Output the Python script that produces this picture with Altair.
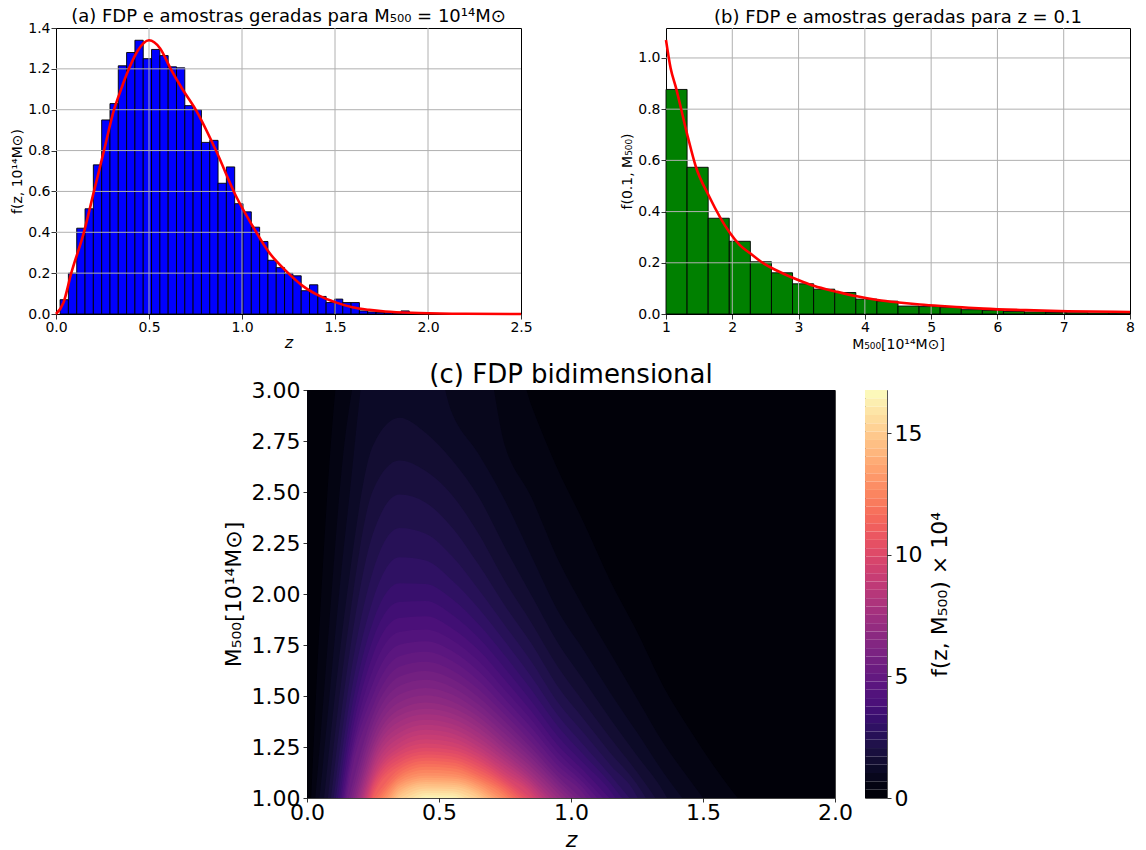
import math

import altair as alt
import pandas as pd

FONT = "DejaVu Sans"

# ---------------- (a) redshift samples for M500 = 1e14 Msun ----------------
z_bin_start = 0.022
z_bin_width = 0.0447
z_hist = [0.07, 0.20, 0.42, 0.515, 0.73, 0.95, 1.03, 1.215, 1.28, 1.34,
          1.25, 1.295, 1.265, 1.21, 1.205, 1.02, 1.00, 0.84, 0.85, 0.64,
          0.72, 0.54, 0.50, 0.425, 0.355, 0.263, 0.227, 0.199, 0.187, 0.114,
          0.143, 0.086, 0.056, 0.073, 0.056, 0.056, 0.015, 0.010, 0.008, 0.006,
          0.005, 0.015, 0.002, 0.003, 0.001, 0.001, 0.002, 0.001, 0.001, 0.001]

z_pdf_z = [0.0, 0.04, 0.082, 0.15, 0.204, 0.258, 0.312, 0.35, 0.392, 0.44,
           0.5, 0.56, 0.6165, 0.68, 0.751, 0.86, 0.966, 1.056, 1.145, 1.235,
           1.324, 1.414, 1.504, 1.593, 1.683, 1.77, 1.95, 2.2, 2.5]
z_pdf_f = [0.0, 0.055, 0.2, 0.4, 0.6, 0.8, 1.0, 1.1, 1.2, 1.29,
           1.34, 1.3, 1.2, 1.1, 1.0, 0.8, 0.58, 0.432, 0.302, 0.212,
           0.139, 0.09, 0.057, 0.033, 0.02, 0.012, 0.005, 0.001, 0.0]

# ---------------- (b) mass samples for z = 0.1 ----------------
m_bin_start = 1.0
m_bin_width = 7.0 / 22
m_hist = [0.877, 0.573, 0.374, 0.284, 0.204, 0.161, 0.118, 0.097, 0.084, 0.058,
          0.050, 0.031, 0.029, 0.026, 0.017, 0.014, 0.010, 0.008, 0.006, 0.005,
          0.004, 0.003]

m_pdf_m = [1.0, 1.07, 1.146, 1.327, 1.448, 1.65, 1.96, 2.11, 2.28, 2.43,
           2.75, 3.07, 3.24, 3.56, 3.88, 4.19, 4.51, 4.83, 5.15, 5.47,
           5.79, 6.43, 7.06, 8.0]
m_pdf_f = [1.07, 0.96, 0.888, 0.694, 0.577, 0.46, 0.318, 0.27, 0.235, 0.205,
           0.16, 0.125, 0.109, 0.088, 0.069, 0.055, 0.045, 0.037, 0.031, 0.026,
           0.021, 0.015, 0.011, 0.008]

# ---------------- (c) joint density f(z, M500) x 1e4 on a (z, M500) grid ----------------
grid_z = [0.0, 0.05, 0.15, 0.25, 0.35, 0.45, 0.55, 0.65, 0.75, 0.85, 0.95,
          1.05, 1.15, 1.25, 1.35, 1.45, 1.55, 1.65, 1.75, 1.85, 1.95]
grid_m = [1.0, 1.02, 1.06, 1.11, 1.17, 1.25, 1.35, 1.45, 1.55, 1.65, 1.75,
          1.85, 1.95, 2.05, 2.15, 2.25, 2.35, 2.45, 2.55, 2.65, 2.75, 2.85, 2.95]
# one row per grid_m value (bottom to top), one value per grid_z value
density_rows = [
    [0.0, 1.09, 5.14, 11.13, 15.05, 16.52, 16.49, 15.03, 12.52, 9.90, 7.17, 5.30, 3.70, 2.43, 1.47, 0.89, 0.53, 0.31, 0.17, 0.09, 0.05],
    [0.0, 1.05, 4.94, 10.70, 14.46, 15.88, 15.85, 14.44, 12.04, 9.51, 6.89, 5.10, 3.55, 2.34, 1.42, 0.85, 0.50, 0.30, 0.16, 0.09, 0.05],
    [0.0, 0.99, 4.62, 9.96, 13.40, 14.66, 14.57, 13.23, 10.99, 8.64, 6.23, 4.60, 3.19, 2.10, 1.26, 0.75, 0.44, 0.25, 0.15, 0.08, 0.05],
    [0.0, 0.89, 4.15, 8.92, 11.95, 13.02, 12.88, 11.64, 9.61, 7.53, 5.41, 3.97, 2.74, 1.80, 1.07, 0.64, 0.38, 0.22, 0.12, 0.07, 0.04],
    [0.0, 0.81, 3.76, 8.04, 10.71, 11.59, 11.40, 10.25, 8.41, 6.56, 4.68, 3.41, 2.34, 1.52, 0.91, 0.54, 0.31, 0.18, 0.09, 0.06, 0.03],
    [0.0, 0.71, 3.28, 6.95, 9.18, 9.86, 9.63, 8.58, 7.00, 5.41, 3.84, 2.78, 1.90, 1.22, 0.72, 0.42, 0.25, 0.14, 0.07, 0.05, 0.03],
    [0.0, 0.63, 2.85, 5.98, 7.84, 8.34, 8.06, 7.12, 5.75, 4.40, 3.09, 2.22, 1.49, 0.96, 0.56, 0.33, 0.19, 0.11, 0.05, 0.04, 0.02],
    [0.0, 0.55, 2.48, 5.15, 6.68, 7.04, 6.75, 5.90, 4.73, 3.58, 2.49, 1.77, 1.18, 0.75, 0.43, 0.25, 0.14, 0.08, 0.05, 0.03, 0.01],
    [0.0, 0.50, 2.20, 4.52, 5.81, 6.07, 5.76, 4.99, 3.95, 2.97, 2.04, 1.44, 0.95, 0.59, 0.34, 0.20, 0.11, 0.06, 0.04, 0.02, 0.01],
    [0.0, 0.44, 1.96, 4.01, 5.09, 5.27, 4.95, 4.25, 3.34, 2.48, 1.69, 1.18, 0.77, 0.48, 0.27, 0.15, 0.09, 0.05, 0.03, 0.01, 0.01],
    [0.0, 0.40, 1.76, 3.55, 4.46, 4.57, 4.26, 3.62, 2.82, 2.08, 1.40, 0.97, 0.63, 0.39, 0.22, 0.13, 0.07, 0.04, 0.02, 0.01, 0.01],
    [0.0, 0.36, 1.57, 3.13, 3.92, 3.97, 3.66, 3.09, 2.38, 1.74, 1.16, 0.79, 0.51, 0.32, 0.17, 0.10, 0.05, 0.03, 0.02, 0.01, 0.00],
    [0.0, 0.33, 1.41, 2.80, 3.47, 3.49, 3.19, 2.66, 2.03, 1.47, 0.97, 0.66, 0.42, 0.25, 0.14, 0.07, 0.05, 0.02, 0.01, 0.01, 0.00],
    [0.0, 0.30, 1.29, 2.53, 3.09, 3.08, 2.79, 2.30, 1.74, 1.25, 0.82, 0.55, 0.35, 0.21, 0.11, 0.06, 0.04, 0.02, 0.01, 0.01, 0.00],
    [0.0, 0.28, 1.19, 2.32, 2.82, 2.78, 2.49, 2.04, 1.52, 1.08, 0.71, 0.47, 0.29, 0.17, 0.09, 0.05, 0.03, 0.02, 0.01, 0.00, 0.00],
    [0.0, 0.27, 1.10, 2.13, 2.56, 2.51, 2.23, 1.80, 1.33, 0.94, 0.60, 0.40, 0.25, 0.14, 0.08, 0.04, 0.02, 0.01, 0.01, 0.00, 0.00],
    [0.0, 0.25, 1.03, 1.97, 2.34, 2.27, 2.00, 1.61, 1.18, 0.82, 0.52, 0.34, 0.21, 0.12, 0.07, 0.03, 0.02, 0.01, 0.00, 0.00, 0.00],
    [0.0, 0.23, 0.96, 1.82, 2.14, 2.05, 1.79, 1.42, 1.04, 0.71, 0.45, 0.29, 0.18, 0.10, 0.05, 0.03, 0.01, 0.01, 0.00, 0.00, 0.00],
    [0.0, 0.22, 0.88, 1.64, 1.92, 1.82, 1.57, 1.24, 0.89, 0.61, 0.38, 0.24, 0.15, 0.08, 0.04, 0.02, 0.01, 0.01, 0.00, 0.00, 0.00],
    [0.0, 0.20, 0.80, 1.48, 1.72, 1.62, 1.38, 1.08, 0.77, 0.52, 0.32, 0.20, 0.12, 0.07, 0.04, 0.02, 0.01, 0.00, 0.00, 0.00, 0.00],
    [0.0, 0.18, 0.73, 1.34, 1.54, 1.43, 1.21, 0.94, 0.66, 0.44, 0.27, 0.17, 0.10, 0.06, 0.03, 0.01, 0.01, 0.00, 0.00, 0.00, 0.00],
    [0.0, 0.17, 0.67, 1.22, 1.39, 1.28, 1.07, 0.82, 0.58, 0.38, 0.23, 0.14, 0.08, 0.05, 0.02, 0.01, 0.01, 0.00, 0.00, 0.00, 0.00],
    [0.0, 0.16, 0.62, 1.11, 1.25, 1.14, 0.95, 0.72, 0.50, 0.33, 0.20, 0.12, 0.07, 0.04, 0.02, 0.01, 0.00, 0.00, 0.00, 0.00, 0.00],
]
density_max = 16.78
n_bands = 49

# ---------------- tables ----------------
hist_a = pd.DataFrame({
    "lo": [z_bin_start + i * z_bin_width for i in range(len(z_hist))],
    "hi": [z_bin_start + (i + 1) * z_bin_width for i in range(len(z_hist))],
    "h": z_hist,
    "base": 0.0,
})
curve_a = pd.DataFrame({"lo": z_pdf_z, "h": z_pdf_f})

hist_b = pd.DataFrame({
    "lo": [m_bin_start + i * m_bin_width for i in range(len(m_hist))],
    "hi": [m_bin_start + (i + 1) * m_bin_width for i in range(len(m_hist))],
    "h": m_hist,
    "base": 0.0,
})
curve_b = pd.DataFrame({"lo": m_pdf_m, "h": m_pdf_f})

level_edges = [density_max * k / n_bands for k in range(n_bands + 1)]
band_mid = [(a + b) / 2 for a, b in zip(level_edges[:-1], level_edges[1:])]


def crossing(a, b, va, vb, level):
    """Position between a and b where the density passes `level`."""
    if va > 0 and vb > 0 and va != vb:
        t = (math.log(va) - math.log(level)) / (math.log(va) - math.log(vb))
    else:
        t = (va - level) / (va - vb)
    return a + t * (b - a)


def band_outline(level):
    """Upper edge of the region where f(z, M500) >= level (filled down to M500 = 1)."""
    bottom = density_rows[0]
    cols = [j for j, v in enumerate(bottom) if v >= level]
    if not cols:
        return []
    j0, j1 = cols[0], cols[-1]
    pts = [(crossing(grid_z[j0 - 1], grid_z[j0], bottom[j0 - 1], bottom[j0], level), 1.0)]
    for j in cols:
        col = [row[j] for row in density_rows]
        top = 3.3
        for i in range(len(col) - 1):
            if col[i] >= level > col[i + 1]:
                top = crossing(grid_m[i], grid_m[i + 1], col[i], col[i + 1], level)
                break
        pts.append((grid_z[j], top))
    if j1 + 1 < len(grid_z):
        pts.append((crossing(grid_z[j1], grid_z[j1 + 1], bottom[j1], bottom[j1 + 1], level), 1.0))
    return pts


cbar_df = pd.DataFrame({"lo": level_edges[:-1], "hi": level_edges[1:], "mid": band_mid})

# ---------------- shared styling ----------------
GRID = "#b0b0b0"
small_axis = dict(labelFont=FONT, labelFontSize=14, labelColor="black",
                  titleFont=FONT, titleFontSize=14, titleColor="black",
                  titleFontWeight="normal", tickColor="black", tickSize=5,
                  tickWidth=0.8, domain=False, grid=False, labelPadding=1,
                  labelFlush=False, labelOverlap=False)
big_axis = dict(labelFont=FONT, labelFontSize=22, labelColor="black",
                titleFont=FONT, titleFontSize=22, titleColor="black",
                titleFontWeight="normal", tickColor="black", tickSize=4,
                tickWidth=0.8, domain=False, grid=False, labelPadding=3,
                labelFlush=False, labelOverlap=False)


def axis_with(base, **extra):
    opts = dict(base)
    opts.update(extra)
    return alt.Axis(**opts)


def panel_title(text, size, offset, dx=0):
    return alt.TitleParams(text, font=FONT, fontSize=size, fontWeight="normal",
                           color="black", anchor="middle", frame="group",
                           offset=offset, dx=dx)


# ---------------- panel (a) ----------------
xa_scale = alt.Scale(domain=[0, 2.5], nice=False, zero=False)
ya_scale = alt.Scale(domain=[0, 1.4], nice=False)
xa_axis = axis_with(small_axis, values=[0, 0.5, 1.0, 1.5, 2.0, 2.5], format=".1f", title="z",
                    titleFontStyle="italic", titleFontSize=16, titlePadding=0)
ya_axis = axis_with(small_axis, values=[0, 0.2, 0.4, 0.6, 0.8, 1.0, 1.2, 1.4], format=".1f",
                    title="f(z, 10¹⁴M⊙)", titlePadding=3)


def xa(field):
    return alt.X(field, type="quantitative", scale=xa_scale, axis=xa_axis)


def ya(field):
    return alt.Y(field, type="quantitative", scale=ya_scale, axis=ya_axis)


bars_a = alt.Chart(hist_a).mark_rect(fill="#0000ff", stroke="black", strokeWidth=0.9).encode(
    x=xa("lo"), x2="hi", y=ya("h"), y2="base")
vgrid_a = alt.Chart(pd.DataFrame({"lo": [0.5, 1.0, 1.5, 2.0]})).mark_rule(
    color=GRID, strokeWidth=1).encode(x=xa("lo"))
hgrid_a = alt.Chart(pd.DataFrame({"h": [0.2, 0.4, 0.6, 0.8, 1.0, 1.2]})).mark_rule(
    color=GRID, strokeWidth=1).encode(y=ya("h"))
line_a = alt.Chart(curve_a).mark_line(color="#ff0000", strokeWidth=2.6, interpolate="monotone").encode(
    x=xa("lo"), y=ya("h"))

panel_a = alt.layer(bars_a, vgrid_a, hgrid_a, line_a).properties(
    width=465, height=286,
    title=panel_title("(a) FDP e amostras geradas para M₅₀₀ = 10¹⁴M⊙", 18, -5))

# ---------------- panel (b) ----------------
xb_scale = alt.Scale(domain=[1, 8], nice=False, zero=False)
yb_scale = alt.Scale(domain=[0, 1.117], nice=False)
xb_axis = axis_with(small_axis, values=[1, 2, 3, 4, 5, 6, 7, 8], format="d",
                    title="M₅₀₀[10¹⁴M⊙]", titlePadding=3)
yb_axis = axis_with(small_axis, values=[0, 0.2, 0.4, 0.6, 0.8, 1.0], format=".1f",
                    title="f(0.1, M₅₀₀)", titlePadding=3)


def xb(field):
    return alt.X(field, type="quantitative", scale=xb_scale, axis=xb_axis)


def yb(field):
    return alt.Y(field, type="quantitative", scale=yb_scale, axis=yb_axis)


bars_b = alt.Chart(hist_b).mark_rect(fill="#008000", stroke="black", strokeWidth=0.9).encode(
    x=xb("lo"), x2="hi", y=yb("h"), y2="base")
vgrid_b = alt.Chart(pd.DataFrame({"lo": [2, 3, 4, 5, 6, 7]})).mark_rule(
    color=GRID, strokeWidth=1).encode(x=xb("lo"))
hgrid_b = alt.Chart(pd.DataFrame({"h": [0.2, 0.4, 0.6, 0.8, 1.0]})).mark_rule(
    color=GRID, strokeWidth=1).encode(y=yb("h"))
line_b = alt.Chart(curve_b).mark_line(color="#ff0000", strokeWidth=2.6, interpolate="monotone").encode(
    x=xb("lo"), y=yb("h"))

panel_b = alt.layer(bars_b, vgrid_b, hgrid_b, line_b).properties(
    width=464, height=286,
    title=panel_title("(b) FDP e amostras geradas para z = 0.1", 18, 1))

# ---------------- panel (c): filled density bands ----------------
color_scale = alt.Scale(scheme="magma", domain=[0, density_max])
xc_scale = alt.Scale(domain=[0, 2], nice=False, zero=False)
yc_scale = alt.Scale(domain=[1, 3], nice=False, zero=False)
xc_axis = axis_with(big_axis, values=[0, 0.5, 1.0, 1.5, 2.0], format=".1f", title="z",
                    titleFontStyle="italic", titlePadding=6, labelPadding=0)
yc_axis = axis_with(big_axis, values=[1.0, 1.25, 1.5, 1.75, 2.0, 2.25, 2.5, 2.75, 3.0],
                    format=".2f", title="M₅₀₀[10¹⁴M⊙]", titlePadding=6)


def xc(field):
    return alt.X(field, type="quantitative", scale=xc_scale, axis=xc_axis)


def yc(field):
    return alt.Y(field, type="quantitative", scale=yc_scale, axis=yc_axis, stack=None)


floor_df = pd.DataFrame({"z": [0.0], "z1": [2.0], "m": [1.0], "m1": [3.0], "mid": [band_mid[0]]})
band_layers = [
    alt.Chart(floor_df).mark_rect().encode(
        x=xc("z"), x2="z1", y=yc("m"), y2="m1",
        color=alt.Color("mid:Q", scale=color_scale, legend=None))
]
for k in range(1, n_bands):
    pts = band_outline(level_edges[k])
    if not pts:
        continue
    band_df = pd.DataFrame({"z": [p[0] for p in pts], "m": [p[1] for p in pts],
                            "base": 1.0, "mid": band_mid[k]})
    band_layers.append(
        alt.Chart(band_df).mark_area(interpolate="monotone", clip=True).encode(
            x=xc("z"), y=yc("m"), y2="base",
            color=alt.Color("mid:Q", scale=color_scale, legend=None)))

heat = alt.layer(*band_layers).properties(
    width=528, height=408,
    title=panel_title("(c) FDP bidimensional", 26, -9),
    view=alt.ViewBackground(stroke="#444444"))

cbar = alt.Chart(cbar_df).mark_rect().encode(
    x=alt.value(0), x2=alt.value(22),
    y=alt.Y("lo:Q", scale=alt.Scale(domain=[0, density_max], nice=False),
            axis=axis_with(big_axis, orient="right", values=[0, 5, 10, 15], format="d",
                           title="f(z, M₅₀₀) × 10⁴", titleAngle=270, titleBaseline="top",
                           titlePadding=8)),
    y2="hi:Q",
    color=alt.Color("mid:Q", scale=color_scale, legend=None),
).properties(width=22, height=408, view=alt.ViewBackground(stroke="#555555"))

spacer = alt.Chart(pd.DataFrame({"s": [0]})).mark_point(opacity=0).encode(
    x=alt.value(0), y=alt.value(0)
).properties(width=221, height=408, view=alt.ViewBackground(strokeOpacity=0))

top_row = alt.hconcat(panel_a, panel_b, spacing=145, bounds="flush")
bottom_row = alt.hconcat(spacer, heat, cbar, spacing=30, bounds="flush")

chart = alt.vconcat(top_row, bottom_row, spacing=9).properties(
    padding={"left": 10, "top": 7, "right": 4, "bottom": 0}
).configure(font=FONT).configure_view(stroke="black", strokeWidth=1)

chart.save("out.html", embed_options={"renderer": "svg", "actions": False})
